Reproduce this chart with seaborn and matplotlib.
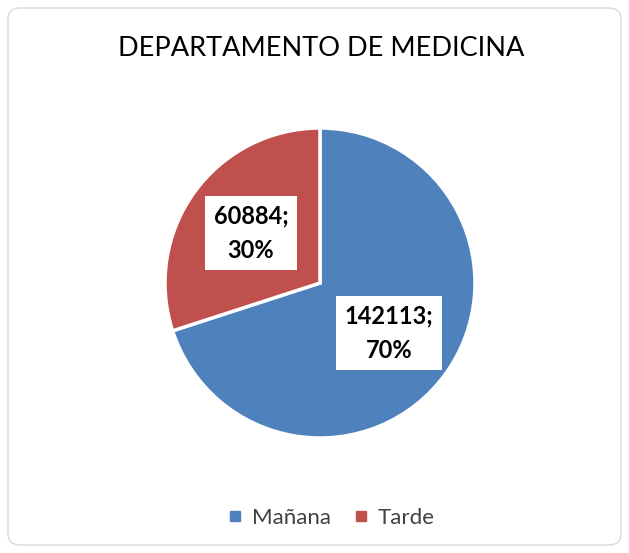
import matplotlib
matplotlib.use("Agg")
import matplotlib.pyplot as plt
import seaborn as sns
from matplotlib.patches import FancyBboxPatch
from matplotlib.lines import Line2D

categories = ["Mañana", "Tarde"]
values = [142113, 60884]
percents = ["70%", "30%"]
title = "DEPARTAMENTO DE MEDICINA"

sns.set_theme(style="white")
plt.rcParams['font.family'] = ['Lato', 'DejaVu Sans']
colors = ["#4F81BD", "#C0504D"]

W, H = 629, 553
fig = plt.figure(figsize=(W / 100, H / 100), dpi=100)
fig.patch.set_facecolor("white")

border = FancyBboxPatch((8 / W, 8 / H), (W - 16) / W, (H - 16) / H,
                        boxstyle="round,pad=0,rounding_size=0.02",
                        transform=fig.transFigure, facecolor="none",
                        edgecolor="#D9D9D9", linewidth=1.0, zorder=-5)
fig.patches.append(border)

cx, cy, r = 320, 283, 155
ax = fig.add_axes([(cx - r) / W, (H - cy - r) / H, 2 * r / W, 2 * r / H])
labels = [f"{v};\n{p}" for v, p in zip(values, percents)]
wedges, texts = ax.pie(values, colors=colors, startangle=90, counterclock=False,
                       labels=labels, labeldistance=0.55,
                       wedgeprops=dict(edgecolor="white", linewidth=2.5),
                       textprops=dict(fontsize=17, fontweight="bold", color="black",
                                      ha="center", va="center", linespacing=1.6))
for t in texts:
    t.set_bbox(dict(facecolor="white", edgecolor="none", pad=6))
ax.set_xlim(-1, 1)
ax.set_ylim(-1, 1)
ax.set_aspect("equal")
ax.axis("off")

fig.text(321 / W, 1 - 48 / H, title, ha="center", va="center", fontsize=19.5, color="black")

handles = [Line2D([0], [0], marker="s", linestyle="none", markersize=7,
                  markerfacecolor=c, markeredgecolor=c) for c in colors]
fig.legend(handles, categories, loc="center", bbox_to_anchor=(331 / W, 1 - 518 / H),
           ncol=2, frameon=False, fontsize=16, handlelength=0.7, handletextpad=0.4,
           columnspacing=1.0, labelcolor="#404040")

fig.savefig("out.png", dpi=100)
